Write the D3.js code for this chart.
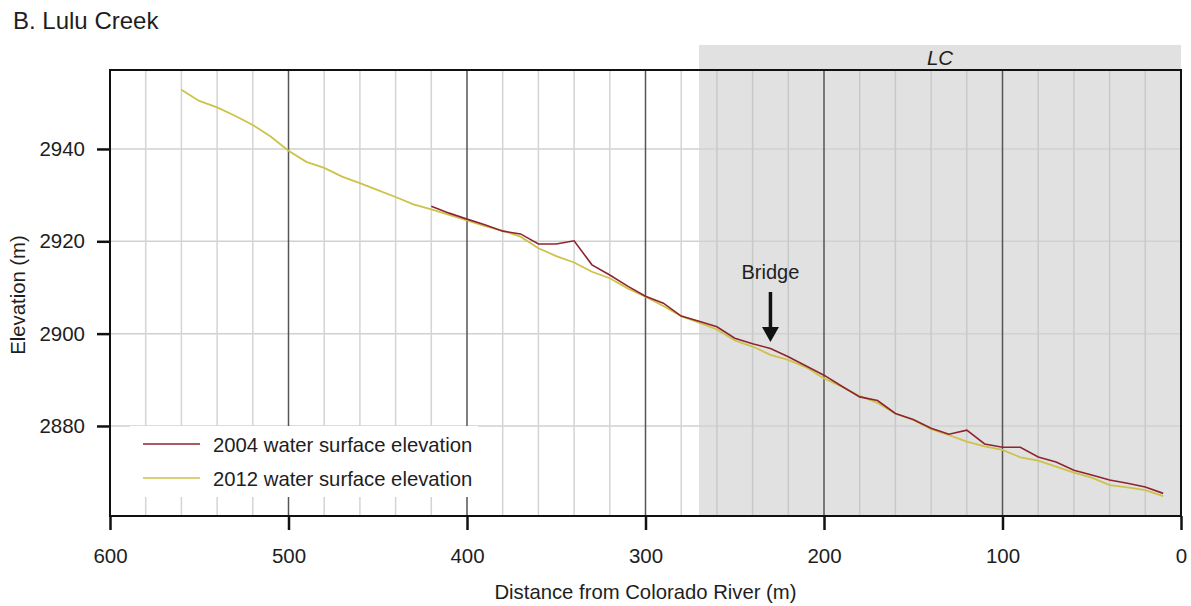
<!DOCTYPE html>
<html>
<head>
<meta charset="utf-8">
<script src="https://cdn.jsdelivr.net/npm/d3@7"></script>
<style>
	body { margin: 0; background: #fff; }
	svg { display: block; font-family: "Liberation Sans", Arial, sans-serif; }
</style>
</head>
<body>
<svg width="1191" height="606"></svg>
<script>
// distance from Colorado River (m)
const DIST_2012 = [560, 550, 540, 530, 520, 510, 500, 490, 480, 470, 460, 450, 440, 430, 420, 410, 400, 390, 380, 370, 360, 350, 340, 330, 320, 310, 300, 290, 280, 270, 260, 250, 240, 230, 220, 210, 200, 190, 180, 170, 160, 150, 140, 130, 120, 110, 100, 90, 80, 70, 60, 50, 40, 30, 20, 10];
const ELEV_2012 = [2952.8, 2950.4, 2949.0, 2947.2, 2945.2, 2942.7, 2939.6, 2937.2, 2935.9, 2934.0, 2932.6, 2931.1, 2929.6, 2928.0, 2926.9, 2925.7, 2924.5, 2923.3, 2922.3, 2921.0, 2918.5, 2916.8, 2915.4, 2913.4, 2912.0, 2909.8, 2908.0, 2906.0, 2903.8, 2902.4, 2900.9, 2898.5, 2897.2, 2895.4, 2894.3, 2892.7, 2890.3, 2888.5, 2886.5, 2885.0, 2882.7, 2881.3, 2879.3, 2878.0, 2876.6, 2875.6, 2874.8, 2873.2, 2872.5, 2871.2, 2869.9, 2868.8, 2867.2, 2866.7, 2866.1, 2864.8];

const DIST_2004 = [420, 410, 400, 390, 380, 370, 360, 350, 340, 330, 320, 310, 300, 290, 280, 270, 260, 250, 240, 230, 220, 210, 200, 190, 180, 170, 160, 150, 140, 130, 120, 110, 100, 90, 80, 70, 60, 50, 40, 30, 20, 10];
const ELEV_2004 = [2927.6, 2926.1, 2924.8, 2923.6, 2922.2, 2921.6, 2919.4, 2919.4, 2920.1, 2914.9, 2912.7, 2910.3, 2908.1, 2906.6, 2903.8, 2902.7, 2901.5, 2899.0, 2897.8, 2896.8, 2895.0, 2893.0, 2891.0, 2888.6, 2886.3, 2885.5, 2882.7, 2881.4, 2879.5, 2878.2, 2879.1, 2876.1, 2875.4, 2875.4, 2873.3, 2872.2, 2870.4, 2869.4, 2868.3, 2867.6, 2866.8, 2865.4];

const X_TICKS = [600, 500, 400, 300, 200, 100, 0];
const Y_TICKS = [2880, 2900, 2920, 2940];
const LC_START = 270;   // reach LC runs from here to the river
const BRIDGE_AT = 230;
const LEGEND_LABELS = ["2004 water surface elevation", "2012 water surface elevation"];
const COLORS = ["#8e2430", "#cdc24a"];

const plotL = 110, plotT = 70, plotR = 1181, plotB = 516;

const x = d3.scaleLinear().domain([600, 0]).range([plotL, plotR]);
const y = d3.scaleLinear().domain([2860.5, 2957.1]).range([plotB, plotT]);

const svg = d3.select("svg");

svg.append("text")
	.attr("x", 13).attr("y", 29)
	.attr("font-size", 24).attr("fill", "#1e1e1e")
	.text("B. Lulu Creek");

// LC reach shading, sticks out above the frame
svg.append("rect")
	.attr("x", x(LC_START)).attr("y", 45)
	.attr("width", x(0) - x(LC_START)).attr("height", plotB - 45)
	.attr("fill", "#e1e1e1");
svg.append("text")
	.attr("x", (x(LC_START) + x(0)) / 2).attr("y", 65)
	.attr("text-anchor", "middle").attr("font-size", 20.5)
	.attr("font-style", "italic").attr("fill", "#1e1e1e")
	.text("LC");

// grid
const grid = svg.append("g");
grid.selectAll(".hg")
	.data(Y_TICKS)
	.enter()
	.append("line")
	.attr("x1", plotL).attr("x2", plotR)
	.attr("y1", (d) => y(d)).attr("y2", (d) => y(d))
	.attr("stroke", "#cfd2d2").attr("stroke-width", 1.5);

const minor = d3.range(20, 600, 20).filter((d) => d % 100 !== 0);
grid.selectAll(".vg")
	.data(minor)
	.enter()
	.append("line")
	.attr("x1", (d) => x(d)).attr("x2", (d) => x(d))
	.attr("y1", plotT).attr("y2", plotB)
	.attr("stroke", (d) => (d < LC_START ? "#c6cbca" : "#d4d4d4"))
	.attr("stroke-width", 1.5);

grid.selectAll(".vmaj")
	.data([100, 200, 300, 400, 500])
	.enter()
	.append("line")
	.attr("x1", (d) => x(d)).attr("x2", (d) => x(d))
	.attr("y1", plotT).attr("y2", plotB)
	.attr("stroke", "#555").attr("stroke-width", 1.5);

// legend box knocks out the grid
svg.append("rect")
	.attr("x", 130).attr("y", 426)
	.attr("width", 348).attr("height", 71)
	.attr("fill", "#fff");

const line = d3.line()
	.x((d) => x(d[0]))
	.y((d) => y(d[1]));

svg.append("path")
	.datum(DIST_2012.map((d, i) => [d, ELEV_2012[i]]))
	.attr("d", line)
	.attr("fill", "none")
	.attr("stroke", COLORS[1])
	.attr("stroke-width", 1.8);

svg.append("path")
	.datum(DIST_2004.map((d, i) => [d, ELEV_2004[i]]))
	.attr("d", line)
	.attr("fill", "none")
	.attr("stroke", COLORS[0])
	.attr("stroke-width", 1.6);

// bridge marker
const bx = x(BRIDGE_AT);
svg.append("text")
	.attr("x", bx).attr("y", 279)
	.attr("text-anchor", "middle").attr("font-size", 20).attr("fill", "#1e1e1e")
	.text("Bridge");
svg.append("line")
	.attr("x1", bx).attr("x2", bx)
	.attr("y1", 292).attr("y2", 330)
	.attr("stroke", "#111").attr("stroke-width", 3.5);
svg.append("path")
	.attr("d", `M${bx - 8.5},327 L${bx + 8.5},327 L${bx},342 Z`)
	.attr("fill", "#111");

// legend
const legend = svg.append("g")
	.selectAll("g")
	.data(LEGEND_LABELS)
	.enter()
	.append("g")
	.attr("transform", (d, i) => `translate(143,${444 + i * 34})`);
legend.append("line")
	.attr("x1", 0).attr("x2", 57)
	.attr("stroke", (d, i) => COLORS[i]).attr("stroke-width", 1.6);
legend.append("text")
	.attr("x", 70).attr("y", 7.5)
	.attr("font-size", 20.3).attr("fill", "#1e1e1e")
	.text((d) => d);

// frame
svg.append("rect")
	.attr("x", plotL).attr("y", plotT)
	.attr("width", plotR - plotL).attr("height", plotB - plotT)
	.attr("fill", "none").attr("stroke", "#111").attr("stroke-width", 2);

// axes
const xAxis = svg.append("g")
	.attr("transform", `translate(0,${plotB})`)
	.call(d3.axisBottom(x).tickValues(X_TICKS).tickSize(14).tickPadding(18));
const yAxis = svg.append("g")
	.attr("transform", `translate(${plotL},0)`)
	.call(d3.axisLeft(y).tickValues(Y_TICKS).tickSize(13).tickPadding(12).tickFormat(d3.format("d")));
[xAxis, yAxis].forEach((a) => {
	a.select(".domain").remove();
	a.selectAll("line").attr("stroke", "#111").attr("stroke-width", 2.5);
	a.selectAll("text")
		.attr("font-size", 20.5).attr("fill", "#1e1e1e")
		.attr("font-family", "Liberation Sans, Arial, sans-serif");
});

svg.append("text")
	.attr("x", (plotL + plotR) / 2).attr("y", 599)
	.attr("text-anchor", "middle").attr("font-size", 20.3).attr("fill", "#1e1e1e")
	.text("Distance from Colorado River (m)");
svg.append("text")
	.attr("transform", `translate(25,${(plotT + plotB) / 2 + 2}) rotate(-90)`)
	.attr("text-anchor", "middle").attr("font-size", 20.3).attr("fill", "#1e1e1e")
	.text("Elevation (m)");
</script>
</body>
</html>
